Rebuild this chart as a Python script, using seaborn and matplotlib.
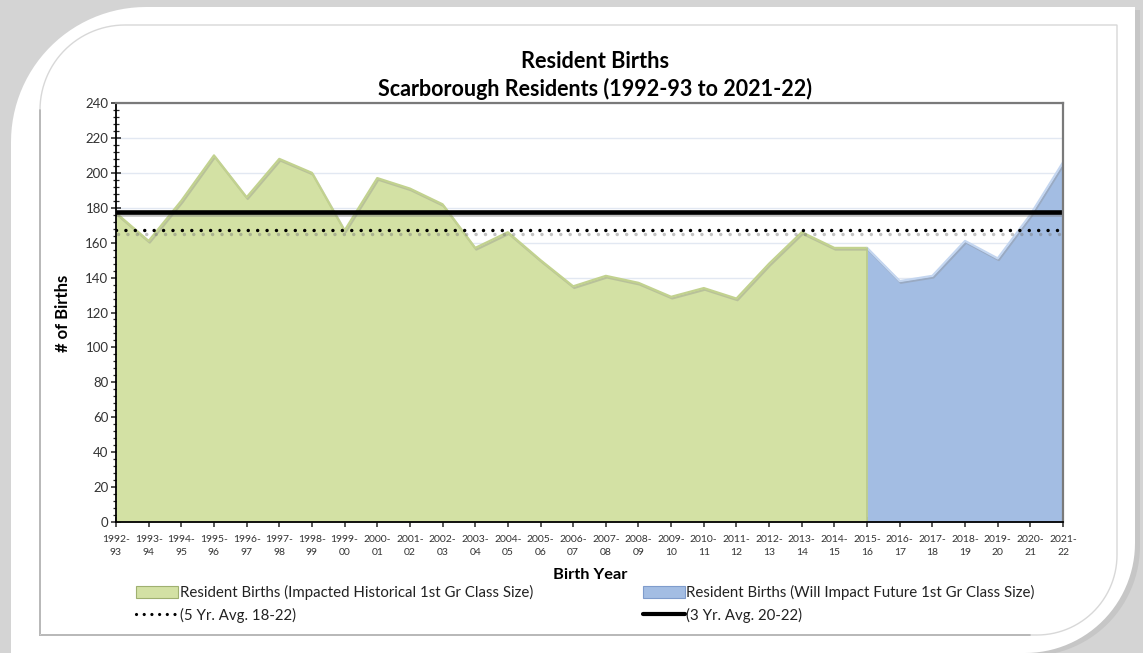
import numpy as np
import matplotlib
matplotlib.use("Agg")
import matplotlib.pyplot as plt
import seaborn as sns
import pandas as pd
from matplotlib.path import Path
from matplotlib.patches import PathPatch, Patch
from matplotlib.lines import Line2D
import matplotlib.patheffects as pe
from matplotlib.ticker import MultipleLocator

# ---------------- data ----------------
birth_years = ["1992-\n93", "1993-\n94", "1994-\n95", "1995-\n96", "1996-\n97", "1997-\n98",
               "1998-\n99", "1999-\n00", "2000-\n01", "2001-\n02", "2002-\n03", "2003-\n04",
               "2004-\n05", "2005-\n06", "2006-\n07", "2007-\n08", "2008-\n09", "2009-\n10",
               "2010-\n11", "2011-\n12", "2012-\n13", "2013-\n14", "2014-\n15", "2015-\n16",
               "2016-\n17", "2017-\n18", "2018-\n19", "2019-\n20", "2020-\n21", "2021-\n22"]
historical_births = [177, 161, 184, 210, 186, 208, 200, 167, 197, 191, 182, 157,
                     166, 150, 135, 141, 137, 129, 134, 128, 148, 166, 157, 157]
future_births = [157, 138, 141, 161, 151, 176, 206]
avg_5yr = 167.0
avg_3yr = 177.7

label_hist = "Resident Births (Impacted Historical 1st Gr Class Size)"
label_future = "Resident Births (Will Impact Future 1st Gr Class Size)"
label_avg5 = "(5 Yr. Avg. 18-22)"
label_avg3 = "(3 Yr. Avg. 20-22)"

GREEN = "#d3e1a4"
GREEN_EDGE = "#c2d28f"
BLUE = "#a3bde3"
BLUE_EDGE = "#c4d6f0"

sns.set_theme(style="white")
plt.rcParams["font.family"] = ["Lato", "DejaVu Sans"]

W, H = 1143, 653
fig = plt.figure(figsize=(W / 100, H / 100), dpi=100)
fig.patch.set_facecolor("#d4d4d4")


def rounded_path(x0, y0, x1, y1, r_tl, r_br):
    """Rectangle in pixel coords (y from top) with rounded TL and BR corners."""
    pts = [(x0 + r_tl, y0), (x1, y0), (x1, y1 - r_br)]
    cx, cy = x1 - r_br, y1 - r_br
    for t in np.linspace(0, np.pi / 2, 30):
        pts.append((cx + r_br * np.cos(t), cy + r_br * np.sin(t)))
    pts += [(x0, y1), (x0, y0 + r_tl)]
    cx, cy = x0 + r_tl, y0 + r_tl
    for t in np.linspace(np.pi, 1.5 * np.pi, 30):
        pts.append((cx + r_tl * np.cos(t), cy + r_tl * np.sin(t)))
    pts.append((x0 + r_tl, y0))
    pts = np.array(pts)
    pts[:, 0] = pts[:, 0] / W
    pts[:, 1] = 1 - pts[:, 1] / H
    return pts


# card shadow + card
shadow = rounded_path(14, 10, 1140, 656, 135, 110)
fig.patches.append(PathPatch(Path(shadow), transform=fig.transFigure,
                             facecolor="#bdbdbd", edgecolor="none", alpha=0.6, zorder=-3))
card = rounded_path(11, 7, 1135, 653, 135, 110)
fig.patches.append(PathPatch(Path(card), transform=fig.transFigure,
                             facecolor="white", edgecolor="none", zorder=-2))
inner = rounded_path(40, 25, 1117, 635, 85, 80)
fig.patches.append(PathPatch(Path(inner), transform=fig.transFigure,
                             facecolor="none", edgecolor="#d8d8d8", lw=1.0, zorder=-1))
left_pts = np.array([[40 / W, 1 - 110 / H], [40 / W, 1 - 635 / H], [1030 / W, 1 - 635 / H]])
fig.lines.append(Line2D(left_pts[:, 0], left_pts[:, 1], transform=fig.transFigure,
                        color="#5a5a5a", lw=1.2, zorder=-1))

ax = fig.add_axes([116 / W, 1 - 522 / H, (1063 - 116) / W, (522 - 103) / H])
ax.set_zorder(2)
ax.set_facecolor("white")

x_hist = np.arange(len(historical_births))
x_future = np.arange(len(historical_births) - 1, len(historical_births) - 1 + len(future_births))

ax.yaxis.grid(True, color="#e2e8f2", lw=1.0)
ax.set_axisbelow(True)

ax.fill_between(x_hist, historical_births, 0, color=GREEN, lw=0, zorder=2)
ax.fill_between(x_future, future_births, 0, color=BLUE, lw=0, zorder=2)

df_h = pd.DataFrame({"x": x_hist, "y": historical_births})
df_f = pd.DataFrame({"x": x_future, "y": future_births})
shadow_fx = [pe.SimpleLineShadow(offset=(0.8, -1.2), shadow_color="#888888", alpha=0.35),
             pe.Normal()]
sns.lineplot(data=df_h, x="x", y="y", ax=ax, color=GREEN_EDGE, lw=1.6, zorder=3,
             path_effects=shadow_fx)
sns.lineplot(data=df_f, x="x", y="y", ax=ax, color=BLUE_EDGE, lw=1.6, zorder=3,
             path_effects=shadow_fx)
ax.plot([x_hist[-1], x_hist[-1]], [0, historical_births[-1]], color="#b9c98a", lw=1.2, zorder=3)

n = len(birth_years)
avg5_line = pd.DataFrame({"x": [0, n - 1], "y": [avg_5yr, avg_5yr]})
avg3_line = pd.DataFrame({"x": [0, n - 1], "y": [avg_3yr, avg_3yr]})
sns.lineplot(data=avg5_line, x="x", y="y", ax=ax, color="black", lw=2.5,
             linestyle=(0, (0.01, 2.7)), dash_capstyle="round", zorder=4,
             path_effects=[pe.SimpleLineShadow(offset=(1.2, -2.2), shadow_color="#777777", alpha=0.45),
                           pe.Normal()])
sns.lineplot(data=avg3_line, x="x", y="y", ax=ax, color="black", lw=3.3, zorder=4,
             path_effects=[pe.SimpleLineShadow(offset=(1.0, -1.8), shadow_color="#777777", alpha=0.45),
                           pe.Normal()])

ax.set_xlim(0, n - 1)
ax.set_ylim(0, 240)
ax.set_xticks(np.arange(n))
ax.set_xticklabels(birth_years, fontsize=7.5, color="#333333", linespacing=1.5)
ax.yaxis.set_major_locator(MultipleLocator(20))
ax.yaxis.set_minor_locator(MultipleLocator(4))
ax.tick_params(axis="y", which="major", direction="inout", length=7, width=1.1,
               labelsize=9.5, labelcolor="#333333", left=True, pad=2)
ax.tick_params(axis="y", which="minor", direction="inout", length=5, width=0.9, left=True)
ax.tick_params(axis="x", which="major", direction="inout", length=7, width=1.1, bottom=True, pad=6)

for side in ["left", "bottom"]:
    ax.spines[side].set_color("black")
    ax.spines[side].set_linewidth(1.3)
for side in ["top", "right"]:
    ax.spines[side].set_color("#7a7a7a")
    ax.spines[side].set_linewidth(1.6)
for s in ax.spines.values():
    s.set_zorder(5)

ax.set_xlabel("")
ax.set_ylabel("")

fig.text(595 / W, 1 - 61 / H, "Resident Births", ha="center", va="center",
         fontsize=15.7, fontweight="bold", color="black")
fig.text(595 / W, 1 - 89 / H, "Scarborough Residents (1992-93 to 2021-22)", ha="center",
         va="center", fontsize=15.5, fontweight="bold", color="black")
fig.text(590 / W, 1 - 575 / H, "Birth Year", ha="center", va="center",
         fontsize=11.8, fontweight="bold", color="black")
fig.text(63 / W, 1 - 313 / H, "# of Births", ha="center", va="center", rotation=90,
         fontsize=12, fontweight="bold", color="black")

handles = [
    Patch(facecolor=GREEN, edgecolor="#9fb070", lw=0.8),
    Line2D([], [], color="black", lw=2.3, linestyle=(0, (0.01, 2.4)), dash_capstyle="round"),
    Patch(facecolor=BLUE, edgecolor="#7f9ccc", lw=0.8),
    Line2D([], [], color="black", lw=3.0),
]
labels = [label_hist, label_avg5, label_future, label_avg3]
fig.legend(handles, labels, loc="upper left", bbox_to_anchor=(136 / W, 1 - 585 / H),
           ncol=2, frameon=False, fontsize=10.8, handlelength=2.8, handleheight=0.8,
           handletextpad=0.1, columnspacing=7.35, labelspacing=0.5, borderpad=0,
           borderaxespad=0, labelcolor="#222222")

fig.savefig("out.png", dpi=100, facecolor=fig.get_facecolor())
